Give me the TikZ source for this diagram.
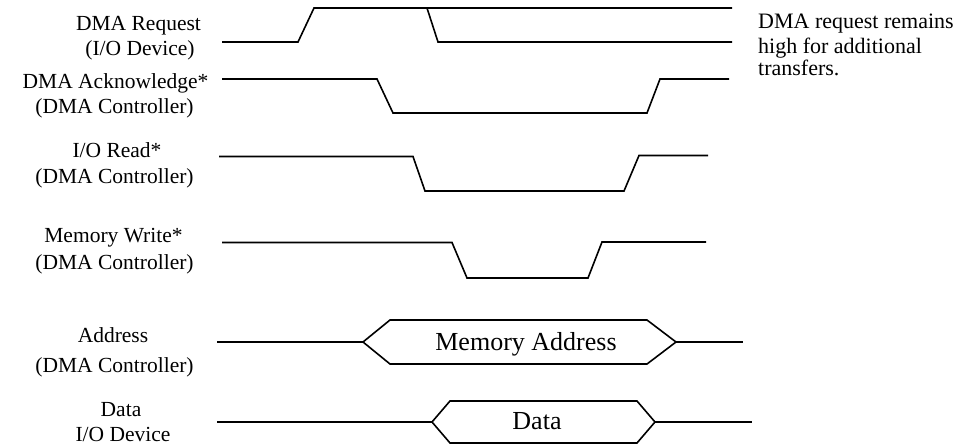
\documentclass[tikz,border=0pt]{standalone}
\usepackage{fontspec}
\setmainfont{Liberation Serif}
\begin{document}
\begin{tikzpicture}[x=1pt,y=-1pt,
  lbl/.style={anchor=base,inner sep=0pt,font=\fontsize{21.5}{26}\selectfont},
  note/.style={anchor=base west,inner sep=0pt,font=\fontsize{22}{26}\selectfont},
  bustext/.style={anchor=base,inner sep=0pt,font=\fontsize{26}{30}\selectfont},
  wave/.style={line width=1.6pt,line join=miter}]
\useasboundingbox (0,0) rectangle (961,445);
% labels
\node[lbl] (l1a) at (138.5,30) {DMA Request};
\node[lbl] (l1b) at (140,55) {(I/O Device)};
\node[lbl] (l2a) at (115.5,88) {DMA Acknowledge*};
\node[lbl] (l2b) at (114.5,113) {(DMA Controller)};
\node[lbl] (l3a) at (117,157) {I/O Read*};
\node[lbl] (l3b) at (114.5,183) {(DMA Controller)};
\node[lbl] (l4a) at (113.5,242) {Memory Write*};
\node[lbl] (l4b) at (114.5,269) {(DMA Controller)};
\node[lbl] (l5a) at (113,342) {Address};
\node[lbl] (l5b) at (114.5,372) {(DMA Controller)};
\node[lbl] (l6a) at (121,416) {Data};
\node[lbl] (l6b) at (123,441) {I/O Device};
% note
\node[note] (n1) at (758,28) {DMA request remains};
\node[note] (n2) at (758,53) {high for additional};
\node[note] (n3) at (758,75) {transfers.};
% DMA Request
\draw[wave] (222,42) -- (298,42) -- (314,8) -- (732,8);
\draw[wave] (427,8) -- (438,42) -- (732,42);
% DMA Acknowledge
\draw[wave] (222,79) -- (377,79) -- (393,113) -- (647,113) -- (660,79) -- (729,79);
% I/O Read
\draw[wave] (219,156.5) -- (413,156.5) -- (425,191) -- (624,191) -- (639,155.5) -- (708,155.5);
% Memory Write
\draw[wave] (222,242.5) -- (452,242.5) -- (467,278) -- (588,278) -- (602,242) -- (706,242);
% Address bus
\coordinate (al) at (363,342);
\coordinate (ar) at (676,342);
\draw[wave] (217,342) -- (al);
\draw[wave] (al) -- (390,320) -- (647,320) -- (ar) -- (647,364) -- (390,364) -- cycle;
\draw[wave] (ar) -- (743,342);
\node[bustext] (ma) at (526,350) {Memory Address};
% Data bus
\coordinate (dl) at (432,422);
\coordinate (dr) at (655,422);
\draw[wave] (217,422) -- (dl);
\draw[wave] (dl) -- (450,401) -- (637,401) -- (dr) -- (637,443) -- (450,443) -- cycle;
\draw[wave] (dr) -- (752,422);
\node[bustext] (dt) at (537,429) {Data};
\end{tikzpicture}
\end{document}
